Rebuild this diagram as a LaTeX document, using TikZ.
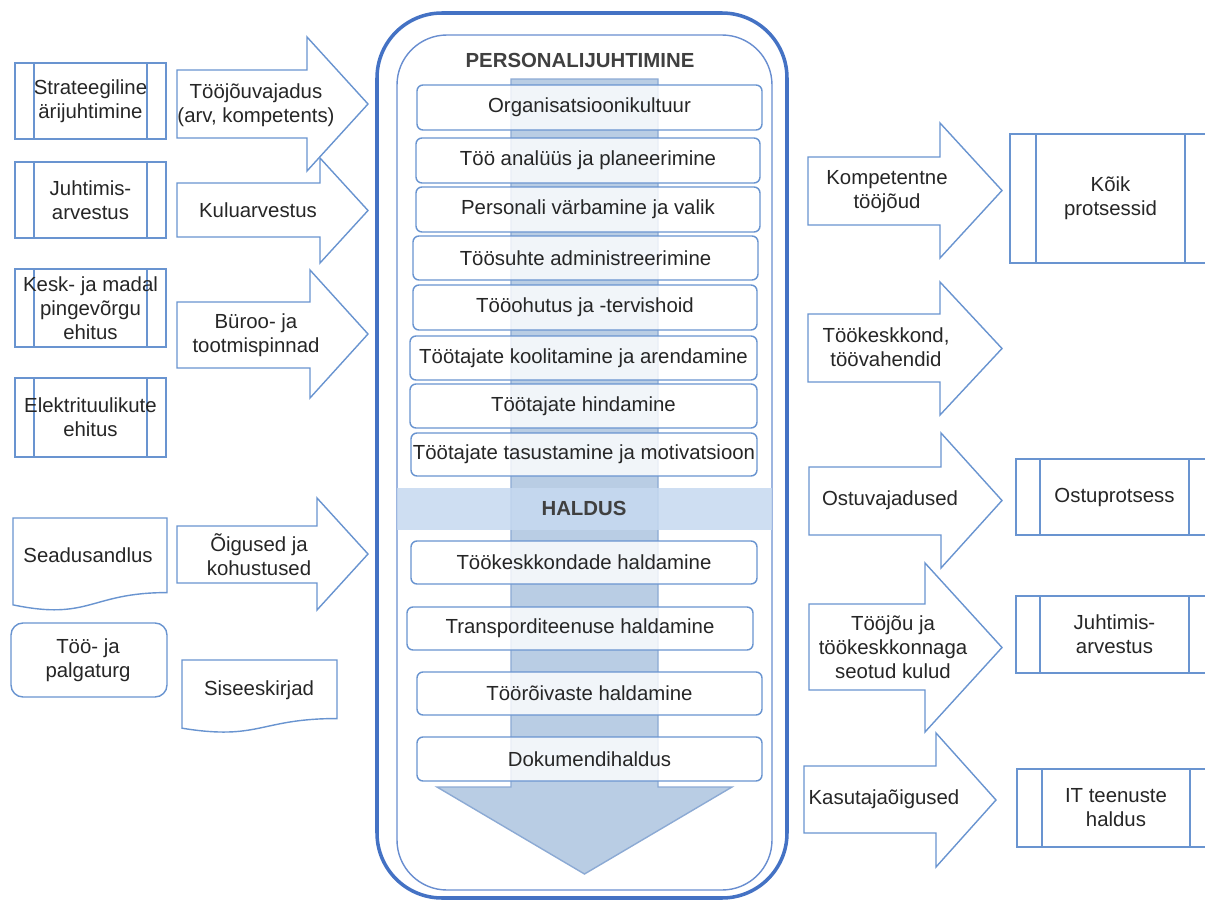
\documentclass[tikz,border=0pt]{standalone}
\usepackage{fontspec}
\setmainfont{Liberation Sans}
\definecolor{frameblue}{RGB}{68,114,196}
\definecolor{lineblue}{RGB}{105,148,208}
\definecolor{flowblue}{RGB}{185,205,228}
\definecolor{flowedge}{RGB}{140,170,212}
\definecolor{bandblue}{RGB}{198,217,240}
\definecolor{txt}{RGB}{38,38,38}
\definecolor{headtxt}{RGB}{64,64,64}
\tikzset{
  shapeline/.style={draw=lineblue, line width=0.8pt, fill=white, line join=miter},
  label/.style={text=txt, align=center, font=\fontsize{11.6}{13.6}\selectfont, inner sep=0pt},
  headlabel/.style={text=headtxt, align=center, font=\fontsize{11.6}{13.6}\selectfont\bfseries, inner sep=0pt},
  cboxstyle/.style={draw=lineblue, line width=0.8pt, fill=white, fill opacity=0.8, rounded corners=0.12cm},
}
% block arrow pointing right: name, shaft left, shaft top, shaft bottom, head base, head top, head bottom, tip x
\newcommand{\rblock}[8]{%
  \draw[shapeline] (#2,#3) -- (#5,#3) -- (#5,#6) -- (#8,{(#6+#7)/2}) -- (#5,#7) -- (#5,#4) -- (#2,#4) -- cycle;
  \coordinate (#1) at ({(#2+#8)/2},{(#6+#7)/2});}
% predefined-process box: name, left, top, right, bottom, inner left, inner right, text
\newcommand{\procbox}[8]{%
  \draw[shapeline] (#2,#3) rectangle (#4,#5);
  \draw[draw=lineblue, line width=0.8pt] (#6,#3) -- (#6,#5) (#7,#3) -- (#7,#5);
  \node[label] (#1) at ({(#6+#7)/2},{(#3+#5)/2}) {#8};}
% document shape with wavy lower edge: name, left, top, right, height, text
\newcommand{\docbox}[6]{%
  \draw[shapeline] (#2,#3) -- (#4,#3) -- (#4,{#3+0.802*#5})
    .. controls ({(#2+#4)/2},{#3+0.802*#5}) and ({(#2+#4)/2},{#3+1.107*#5}) .. (#2,{#3+0.934*#5}) -- cycle;}
% activity box inside the central frame: name, left, top, right, bottom, text
\newcommand{\actbox}[6]{%
  \draw[cboxstyle] (#2,#3) rectangle (#4,#5);
  \node[label] (#1) at ({(#2+#4)/2},{(#3+#5)/2}) {#6};}
\begin{document}
\begin{tikzpicture}[x=0.02cm, y=-0.02cm]
\useasboundingbox (0,0) rectangle (1205,906);

% ---- inputs on the left ----
\procbox{strat}{15}{63}{166}{139}{34}{147}{Strateegiline\\ärijuhtimine}
\procbox{juhtL}{15}{162}{166}{238}{34}{147}{Juhtimis-\\arvestus}
\procbox{kesk}{15}{269}{166}{347}{34}{147}{Kesk- ja madal\\pingevõrgu\\ehitus}
\procbox{elekt}{15}{378}{166}{457}{34}{147}{Elektrituulikute\\ehitus}

\docbox{seadus}{13}{518}{167}{93}{}
\node[label] (seadusT) at (88,555) {Seadusandlus};
\draw[shapeline, rounded corners=0.24cm] (11,623) rectangle (167,697);
\node[label] (turg) at (88,660) {Töö- ja\\palgaturg};
\docbox{sise}{182}{660}{337}{73}{}
\node[label] (siseT) at (259,690) {Siseeskirjad};

\rblock{a1}{177}{70}{138}{307}{37}{171}{368}
\node[label] (a1T) at (256,105) {Tööjõuvajadus\\(arv, kompetents)};
\rblock{a2}{177}{183}{237}{320}{158}{263}{368}
\node[label] (a2T) at (258,210) {Kuluarvestus};
\rblock{a3}{177}{302}{368}{310}{270}{398}{368}
\node[label] (a3T) at (256,335) {Büroo- ja\\tootmispinnad};
\rblock{a4}{177}{526}{583}{317}{498}{610}{368}
\node[label] (a4T) at (259,555) {Õigused ja\\kohustused};

% ---- central frame ----
\draw[draw=frameblue, line width=2pt, fill=white, rounded corners=1.3cm] (377,13) rectangle (787,898);
\draw[draw=frameblue!80, line width=0.8pt, rounded corners=1cm] (397,35) rectangle (772,890);
\node[headlabel] (pj) at (580,60) {PERSONALIJUHTIMINE};

% downward flow arrow behind the activities
\draw[fill=flowblue, draw=flowedge, line width=0.8pt]
  (511,79) -- (658,79) -- (658,787) -- (732,787) -- (584.5,874) -- (437,787) -- (511,787) -- cycle;
\fill[bandblue, fill opacity=0.85] (397,488) rectangle (772,530);
\node[headlabel] (haldus) at (584,508) {HALDUS};

\actbox{b1}{417}{85}{762}{130}{Organisatsioonikultuur}
\actbox{b2}{416}{138}{760}{183}{Töö analüüs ja planeerimine}
\actbox{b3}{416}{187}{760}{232}{Personali värbamine ja valik}
\actbox{b4}{413}{236}{758}{280}{Töösuhte administreerimine}
\actbox{b5}{413}{285}{757}{330}{Tööohutus ja -tervishoid}
\actbox{b6}{410}{336}{757}{380}{Töötajate koolitamine ja arendamine}
\actbox{b7}{410}{384}{757}{428}{Töötajate hindamine}
\actbox{b8}{411}{433}{757}{476}{Töötajate tasustamine ja motivatsioon}
\actbox{c1}{411}{541}{757}{584}{Töökeskkondade haldamine}
\actbox{c2}{407}{607}{753}{650}{Transporditeenuse haldamine}
\actbox{c3}{417}{672}{762}{715}{Töörõivaste haldamine}
\actbox{c4}{417}{737}{762}{781}{Dokumendihaldus}

% ---- outputs on the right ----
\rblock{r1}{808}{157}{225}{940}{123}{258}{1002}
\node[label] (r1T) at (887,192) {Kompetentne\\tööjõud};
\rblock{r2}{808}{314}{382}{940}{282}{415}{1002}
\node[label] (r2T) at (886,347) {Töökeskkond,\\töövahendid};
\rblock{r3}{809}{467}{535}{941}{433}{568}{1002}
\node[label] (r3T) at (890,500) {Ostuvajadused};
\rblock{r4}{809}{604}{690}{925}{563}{732}{1002}
\node[label] (r4T) at (893,647) {Tööjõu ja\\töökeskkonnaga\\seotud kulud};
\rblock{r5}{804}{766}{833}{936}{733}{867}{996}
\node[label] (r5T) at (884,799) {Kasutajaõigused};

\procbox{koik}{1010}{134}{1212}{263}{1036}{1185}{Kõik\\protsessid}
\procbox{ostu}{1016}{459}{1212}{535}{1040}{1189}{Ostuprotsess}
\procbox{juhtR}{1016}{596}{1212}{673}{1040}{1189}{Juhtimis-\\arvestus}
\procbox{itth}{1017}{769}{1212}{847}{1042}{1190}{IT teenuste\\haldus}
\end{tikzpicture}
\end{document}
